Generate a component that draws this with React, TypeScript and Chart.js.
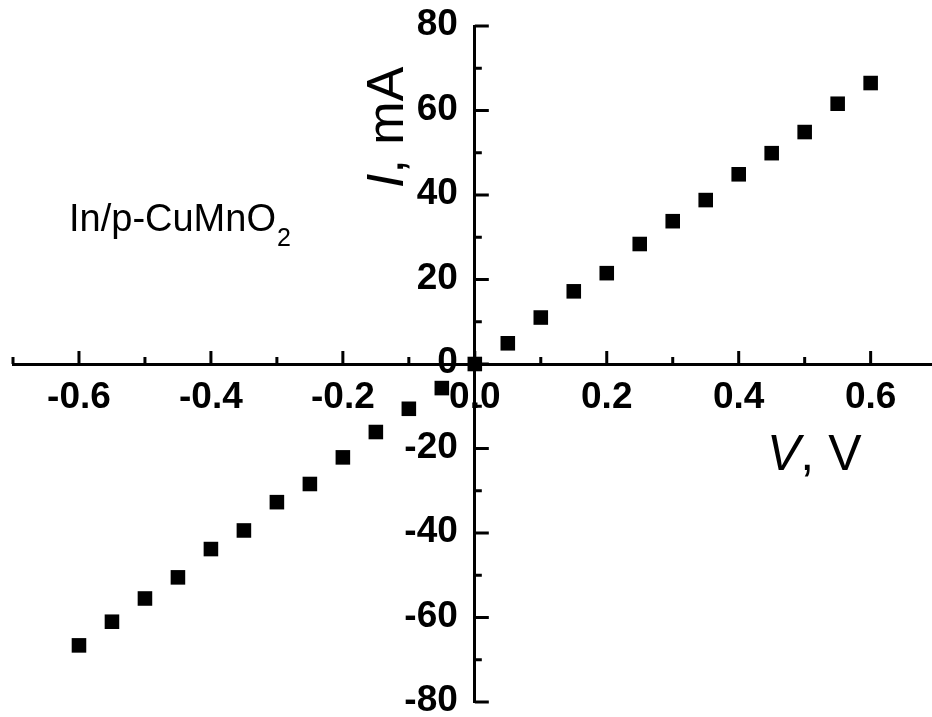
import React, { useEffect, useRef } from 'react';
import { Chart, registerables } from 'chart.js';

Chart.register(...registerables);

// ---- data ----
const voltage = [
  -0.6, -0.55, -0.5, -0.45, -0.4, -0.35, -0.3, -0.25, -0.2, -0.15, -0.1, -0.05,
  0, 0.05, 0.1, 0.15, 0.2, 0.25, 0.3, 0.35, 0.4, 0.45, 0.5, 0.55, 0.6,
];
const current = [
  -66.6, -61.0, -55.5, -50.5, -43.8, -39.4, -32.7, -28.4, -22.1, -16.1, -10.6, -5.7,
  0, 4.9, 11.0, 17.2, 21.5, 28.4, 33.8, 38.8, 44.9, 49.9, 54.9, 61.6, 66.5,
];

const xTickValues = [-0.6, -0.4, -0.2, 0, 0.2, 0.4, 0.6];
const xTickLabels = ['-0.6', '-0.4', '-0.2', '0.0', '0.2', '0.4', '0.6'];
const xMinorTicks = [-0.7, -0.5, -0.3, -0.1, 0.1, 0.3, 0.5];

const yTickValues = [-80, -60, -40, -20, 0, 20, 40, 60, 80];
const yTickLabels = ['-80', '-60', '-40', '-20', '0', '20', '40', '60', '80'];
const yMinorTicks = [-70, -50, -30, -10, 10, 30, 50, 70];

const xTitleItalic = 'V';
const xTitleRest = ', V';
const yTitleItalic = 'I';
const yTitleRest = ', mA';
const sampleLabel = 'In/p-CuMnO';
const sampleSub = '2';

const FONT = 'Arial, "Liberation Sans", sans-serif';

const axisDecor = {
  id: 'axisDecor',
  beforeDatasetsDraw(chart: any) {
    const { ctx } = chart;
    const xs = chart.scales.x;
    const ys = chart.scales.y;
    const x0 = xs.getPixelForValue(0);
    const y0 = ys.getPixelForValue(0);
    ctx.save();
    ctx.strokeStyle = '#000';
    ctx.lineWidth = 3;
    ctx.lineCap = 'butt';
    ctx.beginPath();
    xTickValues.forEach((v) => {
      const px = xs.getPixelForValue(v);
      ctx.moveTo(px, y0);
      ctx.lineTo(px, y0 - 13);
    });
    xMinorTicks.forEach((v) => {
      const px = xs.getPixelForValue(v);
      ctx.moveTo(px, y0);
      ctx.lineTo(px, y0 - 7);
    });
    yTickValues.forEach((v) => {
      const py = ys.getPixelForValue(v);
      ctx.moveTo(x0, py);
      ctx.lineTo(x0 + 14, py);
    });
    yMinorTicks.forEach((v) => {
      const py = ys.getPixelForValue(v);
      ctx.moveTo(x0, py);
      ctx.lineTo(x0 + 7, py);
    });
    ctx.stroke();

    // y tick labels, placed left of the crossing axis
    ctx.fillStyle = '#000';
    ctx.font = `bold 37px ${FONT}`;
    ctx.textAlign = 'right';
    ctx.textBaseline = 'middle';
    yTickValues.forEach((v, i) => {
      const py = ys.getPixelForValue(v);
      ctx.fillText(yTickLabels[i], x0 - 17, py - 1);
    });
    ctx.restore();
  },
  afterDraw(chart: any) {
    const { ctx } = chart;
    ctx.save();
    ctx.fillStyle = '#000';
    ctx.textAlign = 'left';
    ctx.textBaseline = 'alphabetic';

    // x title
    ctx.font = `italic 50px ${FONT}`;
    ctx.fillText(xTitleItalic, 767, 470);
    let w = ctx.measureText(xTitleItalic).width;
    ctx.font = `50px ${FONT}`;
    ctx.fillText(xTitleRest, 767 + w, 470);

    // y title (rotated)
    ctx.save();
    ctx.translate(403, 188);
    ctx.rotate(-Math.PI / 2);
    ctx.font = `italic 52px ${FONT}`;
    ctx.fillText(yTitleItalic, 0, 0);
    w = ctx.measureText(yTitleItalic).width;
    ctx.font = `52px ${FONT}`;
    ctx.fillText(yTitleRest, w, 0);
    ctx.restore();

    // sample label
    ctx.font = `38px ${FONT}`;
    ctx.fillText(sampleLabel, 69, 231);
    w = ctx.measureText(sampleLabel).width;
    ctx.font = `25px ${FONT}`;
    ctx.fillText(sampleSub, 69 + w + 1, 246);
    ctx.restore();
  },
};

export default function App() {
  const canvasRef = useRef<HTMLCanvasElement | null>(null);

  useEffect(() => {
    const canvas = canvasRef.current;
    if (!canvas) return;
    const chart = new Chart(canvas, {
      type: 'scatter',
      data: {
        datasets: [
          {
            data: voltage.map((v, i) => ({ x: v, y: current[i] })),
            pointStyle: 'rect',
            pointRadius: 10.3,
            pointHoverRadius: 10.3,
            backgroundColor: '#000',
            borderColor: '#000',
            borderWidth: 0,
            showLine: false,
          },
        ],
      },
      options: {
        responsive: false,
        animation: false,
        devicePixelRatio: 1,
        layout: { autoPadding: false, padding: { left: 13, right: 0, top: 26, bottom: 15 } },
        plugins: {
          legend: { display: false },
          tooltip: { enabled: false },
        },
        events: [],
        scales: {
          x: {
            type: 'linear',
            min: -0.7,
            max: 0.693,
            position: { y: 0 } as any,
            afterBuildTicks: (s: any) => {
              s.ticks = xTickValues.map((v) => ({ value: v }));
            },
            afterFit: (s: any) => {
              s.paddingLeft = 0;
              s.paddingRight = 0;
              s.paddingTop = 0;
              s.paddingBottom = 0;
            },
            ticks: {
              autoSkip: false,
              maxRotation: 0,
              minRotation: 0,
              padding: 12,
              color: '#000',
              font: { family: FONT, size: 37, weight: 'bold' },
              callback: (_v: any, i: number) => xTickLabels[i],
            },
            grid: { display: false, drawTicks: false },
            border: { display: true, color: '#000', width: 3 },
          },
          y: {
            type: 'linear',
            min: -80,
            max: 80,
            position: { x: 0 } as any,
            afterBuildTicks: (s: any) => {
              s.ticks = yTickValues.map((v) => ({ value: v }));
            },
            afterFit: (s: any) => {
              s.paddingLeft = 0;
              s.paddingRight = 0;
              s.paddingTop = 0;
              s.paddingBottom = 0;
            },
            ticks: {
              display: false,
              autoSkip: false,
              callback: (_v: any, i: number) => yTickLabels[i],
            },
            grid: { display: false, drawTicks: false },
            border: { display: true, color: '#000', width: 3 },
          },
        },
      },
      plugins: [axisDecor],
    });
    return () => chart.destroy();
  }, []);

  return (
    <div style={{ position: 'absolute', left: 0, top: 0, width: 932, height: 717, background: '#fff' }}>
      <canvas ref={canvasRef} width={932} height={717} style={{ display: 'block' }} />
    </div>
  );
}
